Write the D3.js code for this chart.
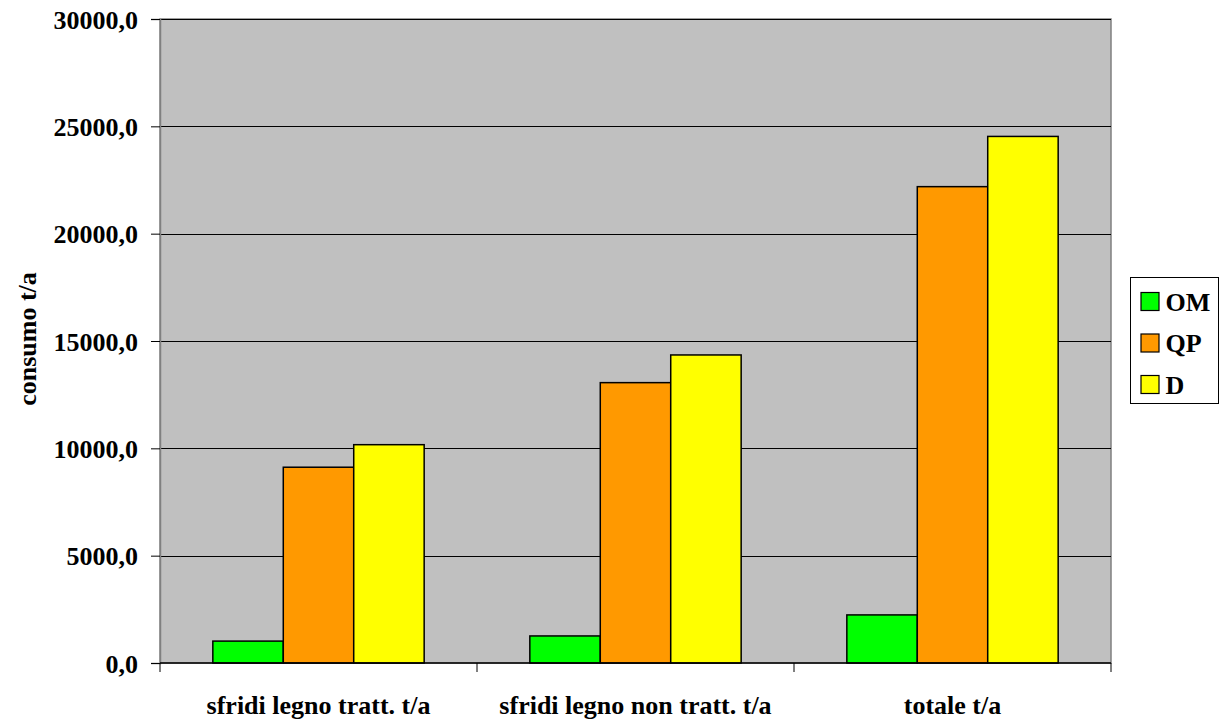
<!DOCTYPE html>
<html>
<head>
<meta charset="utf-8">
<script src="https://cdn.jsdelivr.net/npm/d3@7"></script>
<style>
  body { margin: 0; background: #fff; }
  text { font-family: "Liberation Serif", "Times New Roman", serif; font-weight: bold; fill: #000; }
</style>
</head>
<body>
<div id="chart"></div>
<script>
/*
Chart data
*/
var categories = ["sfridi legno tratt. t/a", "sfridi legno non tratt. t/a", "totale t/a"];
var seriesNames = ["OM", "QP", "D"];
var seriesColors = ["#00ff00", "#ff9900", "#ffff00"];
var valuesOM = [1020, 1260, 2240];
var valuesQP = [9120, 13060, 22190];
var valuesD = [10170, 14350, 24530];
var yTicks = [0, 5000, 10000, 15000, 20000, 25000, 30000];

var seriesValues = [valuesOM, valuesQP, valuesD];

/*
Sizes
*/
var margin = { top: 19, right: 109, bottom: 59, left: 160 },
	width = 1220 - margin.left - margin.right,
	height = 722 - margin.top - margin.bottom;

var svg = d3.select("#chart").append("svg")
	.attr("width", 1220)
	.attr("height", 722);

var g = svg.append("g")
	.attr("transform", "translate(" + margin.left + "," + margin.top + ")");

// Scales
var xScale = d3.scaleBand()
	.domain(categories)
	.range([0, width]);

// gap between groups is 150% of a bar width
var barW = xScale.bandwidth() / 4.5;
var xInner = d3.scaleBand()
	.domain(seriesNames)
	.range([barW * 0.75, barW * 3.75]);

var yScale = d3.scaleLinear()
	.domain([0, 30000])
	.range([height, 0]);

// Plot background
g.append("rect")
	.attr("width", width)
	.attr("height", height)
	.attr("fill", "#c0c0c0")
	.attr("stroke", "#808080")
	.attr("stroke-width", 1.5);

// Gridlines
g.append("g").selectAll("line")
	.data(yTicks.filter(function(d) { return d > 0; }))
	.enter().append("line")
	.attr("x1", 0)
	.attr("x2", width)
	.attr("y1", function(d) { return Math.round(yScale(d)) + 0.5; })
	.attr("y2", function(d) { return Math.round(yScale(d)) + 0.5; })
	.attr("stroke", "#000")
	.attr("stroke-width", 1);

// Bars
var rows = [];
categories.forEach(function(c, i) {
	seriesNames.forEach(function(s, j) {
		rows.push({ cat: c, series: s, value: seriesValues[j][i], color: seriesColors[j] });
	});
});

g.append("g").selectAll("rect")
	.data(rows)
	.enter().append("rect")
	.attr("x", function(d) { return xScale(d.cat) + xInner(d.series); })
	.attr("y", function(d) { return yScale(d.value); })
	.attr("width", xInner.bandwidth())
	.attr("height", function(d) { return height - yScale(d.value); })
	.attr("fill", function(d) { return d.color; })
	.attr("stroke", "#000")
	.attr("stroke-width", 1.5);

// Y axis
var yAxis = d3.axisLeft(yScale)
	.tickValues(yTicks)
	.tickSize(9)
	.tickPadding(13)
	.tickFormat(function(d) { return d3.format(".1f")(d).replace(".", ","); });

var gY = g.append("g").call(yAxis);
gY.select(".domain").attr("stroke", "#808080").attr("stroke-width", 1.5);
gY.selectAll(".tick line").attr("stroke", "#000");
gY.selectAll(".tick text")
	.style("font-size", "26px")
	.attr("dy", "0.35em");

// X axis (ticks at category boundaries)
var gX = g.append("g")
	.attr("transform", "translate(0," + height + ")");

gX.append("line")
	.attr("x1", 0).attr("x2", width)
	.attr("y1", 0).attr("y2", 0)
	.attr("stroke", "#000")
	.attr("stroke-width", 1.5);

var bounds = categories.map(function(c) { return xScale(c); }).concat([width]);
gX.selectAll(".xtick")
	.data(bounds)
	.enter().append("line")
	.attr("class", "xtick")
	.attr("x1", function(d) { return d; })
	.attr("x2", function(d) { return d; })
	.attr("y1", 0)
	.attr("y2", 9)
	.attr("stroke", "#000");

gX.selectAll(".xlabel")
	.data(categories)
	.enter().append("text")
	.attr("class", "xlabel")
	.attr("x", function(d) { return xScale(d) + xScale.bandwidth() / 2; })
	.attr("y", 51)
	.attr("text-anchor", "middle")
	.style("font-size", "26px")
	.text(function(d) { return d; });

// Y axis title
svg.append("text")
	.attr("transform", "translate(36,339) rotate(-90)")
	.attr("text-anchor", "middle")
	.style("font-size", "26px")
	.text("consumo t/a");

// Legend
var legend = svg.append("g")
	.attr("transform", "translate(1130.5,277.5)");

legend.append("rect")
	.attr("width", 88)
	.attr("height", 126)
	.attr("fill", "#fff")
	.attr("stroke", "#000")
	.attr("stroke-width", 1);

var items = legend.selectAll(".item")
	.data(seriesNames)
	.enter().append("g")
	.attr("class", "item")
	.attr("transform", function(d, i) { return "translate(0," + (i * 41.5) + ")"; });

items.append("rect")
	.attr("x", 10.5)
	.attr("y", 15)
	.attr("width", 18)
	.attr("height", 18)
	.attr("fill", function(d, i) { return seriesColors[i]; })
	.attr("stroke", "#000")
	.attr("stroke-width", 1.2);

items.append("text")
	.attr("x", 35)
	.attr("y", 33)
	.style("font-size", "26px")
	.text(function(d) { return d; });
</script>
</body>
</html>
